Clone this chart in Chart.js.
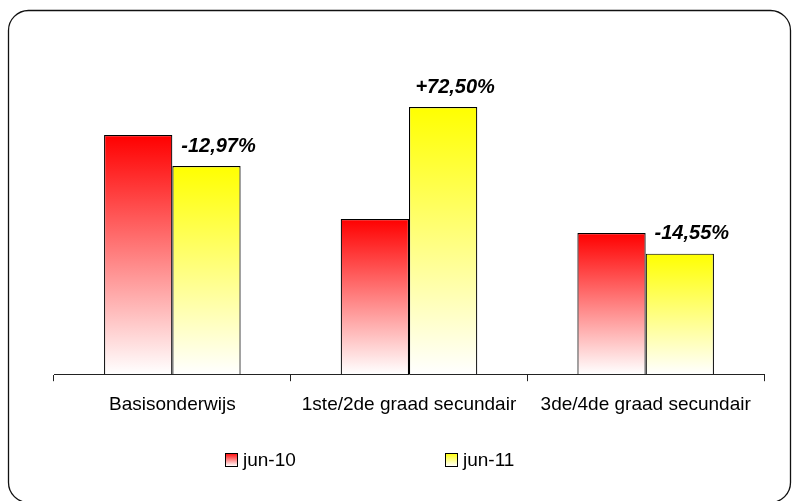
<!DOCTYPE html>
<html>
<head>
<meta charset="utf-8">
<script src="https://cdn.jsdelivr.net/npm/chart.js@4/dist/chart.umd.min.js"></script>
<style>
    html, body { margin: 0; padding: 0; background: #fff; }
    canvas { display: block; }
</style>
</head>
<body>
<canvas id="chart" width="794" height="501"></canvas>
<script>
var categories = ["Basisonderwijs", "1ste/2de graad secundair", "3de/4de graad secundair"];
var seriesNames = ["jun-10", "jun-11"];
var jun10 = [239, 155, 141];
var jun11 = [208, 267, 120.5];
var changeLabels = ["-12,97%", "+72,50%", "-14,55%"];
var yMax = 334;

var topColors = ["#ff0000", "#ffff00"];

function barGradient(ctx, topColor) {
    var chart = ctx.chart;
    var area = chart.chartArea;
    if (!area || ctx.type !== "data") {
        return topColor;
    }
    var y = chart.scales.y;
    var top = y.getPixelForValue(ctx.raw);
    var bottom = y.getPixelForValue(0);
    var g = chart.ctx.createLinearGradient(0, top, 0, bottom);
    g.addColorStop(0, topColor);
    g.addColorStop(1, "#ffffff");
    return g;
}

var framePlugin = {
    id: "frame",
    beforeDraw: function (chart) {
        var c = chart.ctx;
        c.save();
        c.fillStyle = "#ffffff";
        c.fillRect(0, 0, chart.width, chart.height);
        c.beginPath();
        c.roundRect(8.5, 10.5, 782, 492, 20);
        c.strokeStyle = "#111";
        c.lineWidth = 1.3;
        c.stroke();
        c.restore();
    }
};

var changePlugin = {
    id: "changeLabels",
    afterDatasetsDraw: function (chart) {
        var c = chart.ctx;
        var meta = chart.getDatasetMeta(1);
        c.save();
        c.font = "italic bold 20px 'Liberation Sans', Arial, sans-serif";
        c.fillStyle = "#000";
        c.textAlign = "center";
        c.textBaseline = "middle";
        meta.data.forEach(function (bar, i) {
            c.fillText(changeLabels[i], bar.x + 12, bar.y - 20);
        });
        c.restore();
    }
};

var legendPlugin = {
    id: "sideLegend",
    afterDraw: function (chart) {
        var c = chart.ctx;
        var xs = [225, 445];
        c.save();
        c.font = "19px 'Liberation Sans', Arial, sans-serif";
        c.textBaseline = "middle";
        seriesNames.forEach(function (name, i) {
            var x = xs[i];
            var g = c.createLinearGradient(0, 453, 0, 466);
            g.addColorStop(0, topColors[i]);
            g.addColorStop(1, "#ffffff");
            c.fillStyle = g;
            c.fillRect(x + 0.5, 453.5, 12, 13);
            c.strokeStyle = "#000";
            c.lineWidth = 1;
            c.strokeRect(x + 0.5, 453.5, 12, 13);
            c.fillStyle = "#000";
            c.fillText(name, x + 18, 460.5);
        });
        c.restore();
    }
};

new Chart(document.getElementById("chart"), {
    type: "bar",
    data: {
        labels: categories,
        datasets: [
            {
                label: seriesNames[0],
                data: jun10,
                backgroundColor: function (ctx) { return barGradient(ctx, topColors[0]); },
                borderColor: "#000",
                borderWidth: 1.2
            },
            {
                label: seriesNames[1],
                data: jun11,
                backgroundColor: function (ctx) { return barGradient(ctx, topColors[1]); },
                borderColor: "#000",
                borderWidth: 1.2
            }
        ]
    },
    options: {
        responsive: false,
        animation: false,
        layout: {
            padding: { left: 54, right: 30, top: 40, bottom: 73 }
        },
        datasets: {
            bar: { categoryPercentage: 0.577, barPercentage: 1 }
        },
        plugins: {
            legend: { display: false },
            tooltip: { enabled: false }
        },
        scales: {
            x: {
                grid: {
                    display: true,
                    offset: true,
                    drawOnChartArea: false,
                    drawTicks: true,
                    tickLength: 7,
                    color: "#222"
                },
                border: { display: true, color: "#222", width: 1 },
                ticks: {
                    color: "#000",
                    padding: 12,
                    maxRotation: 0,
                    font: { family: "'Liberation Sans', Arial, sans-serif", size: 19 }
                }
            },
            y: {
                display: false,
                min: 0,
                max: yMax
            }
        }
    },
    plugins: [framePlugin, changePlugin, legendPlugin]
});
</script>
</body>
</html>
